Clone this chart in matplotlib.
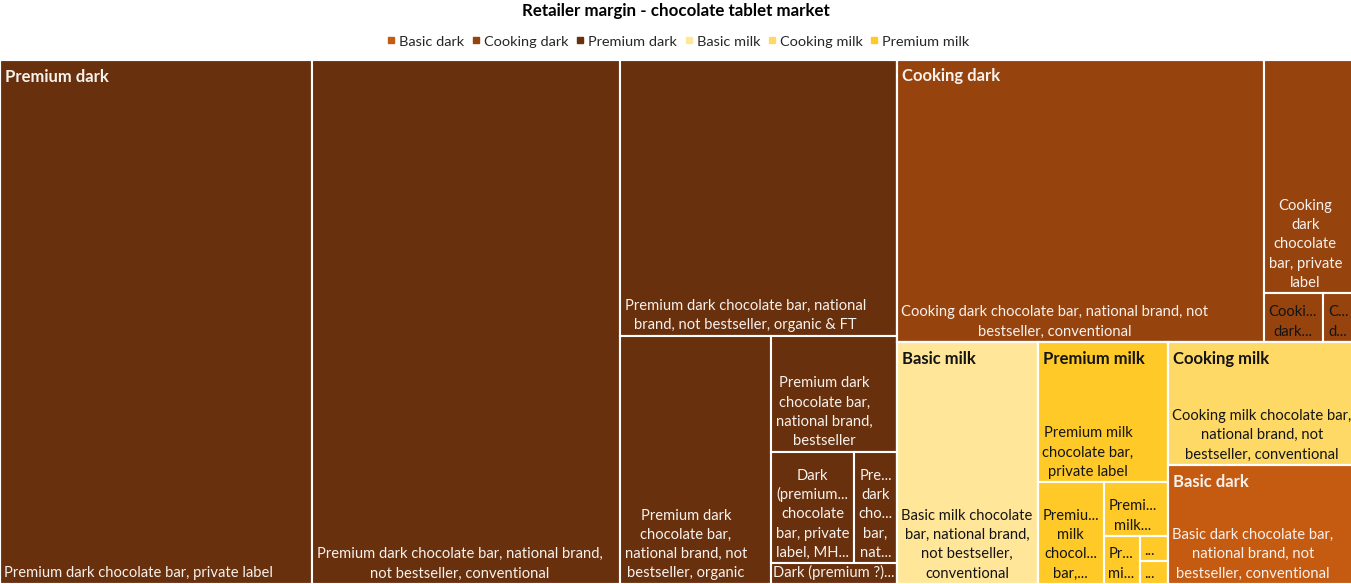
import math
import matplotlib
matplotlib.use("Agg")
import matplotlib.pyplot as plt
from matplotlib.patches import Rectangle
from matplotlib.font_manager import FontProperties
from matplotlib.lines import Line2D

# ---------------- data ----------------
TITLE = "Retailer margin - chocolate tablet market"
LEGEND_ORDER = ["Basic dark", "Cooking dark", "Premium dark", "Basic milk", "Cooking milk", "Premium milk"]
GROUPS = ["Premium dark", "Cooking dark", "Basic milk", "Premium milk", "Cooking milk", "Basic dark"]

premium_dark_items = [
    "Premium dark chocolate bar, private label",
    "Premium dark chocolate bar, national brand, not bestseller, conventional",
    "Premium dark chocolate bar, national brand, not bestseller, organic & FT",
    "Premium dark chocolate bar, national brand, not bestseller, organic",
    "Premium dark chocolate bar, national brand, bestseller",
    "Dark (premium ?) chocolate bar, private label, MHD reduced",
    "Premium dark chocolate bar, national brand, bestseller, organic",
    "Dark (premium ?) chocolate bar, national brand",
]
premium_dark_values = [163.8, 161.7, 76.5, 37.6, 14.6, 9.2, 4.8, 2.6]

cooking_dark_items = [
    "Cooking dark chocolate bar, national brand, not bestseller, conventional",
    "Cooking dark chocolate bar, private label",
    "Cooking dark chocolate bar, national brand, bestseller",
    "Cooking dark chocolate bar, national brand, not bestseller, organic",
]
cooking_dark_values = [103.9, 21.5, 2.9, 1.6]

basic_milk_items = ["Basic milk chocolate bar, national brand, not bestseller, conventional"]
basic_milk_values = [34.1]

premium_milk_items = [
    "Premium milk chocolate bar, private label",
    "Premium milk chocolate bar, national brand, not bestseller, conventional",
    "Premium milk chocolate bar, national brand, bestseller",
    "Premium milk chocolate bar, national brand, not bestseller, organic",
    "Premium milk chocolate bar, national brand, not bestseller, organic & FT",
    "Premium milk chocolate bar, national brand, bestseller, organic",
]
premium_milk_values = [18.2, 6.7, 3.46, 1.73, 0.70, 0.64]

cooking_milk_items = ["Cooking milk chocolate bar, national brand, not bestseller, conventional"]
cooking_milk_values = [23.1]

basic_dark_items = ["Basic dark chocolate bar, national brand, not bestseller, conventional"]
basic_dark_values = [22.4]

GROUP_ITEMS = {
    "Premium dark": (premium_dark_items, premium_dark_values),
    "Cooking dark": (cooking_dark_items, cooking_dark_values),
    "Basic milk": (basic_milk_items, basic_milk_values),
    "Premium milk": (premium_milk_items, premium_milk_values),
    "Cooking milk": (cooking_milk_items, cooking_milk_values),
    "Basic dark": (basic_dark_items, basic_dark_values),
}

# strip grouping used by the treemap layout (items per strip)
STRIPS = {"Premium dark": [1, 1, 1, 1, 1, 2, 1]}

# ---------------- style ----------------
COLORS = {
    "Basic dark": "#C55A11",
    "Cooking dark": "#97430E",
    "Premium dark": "#68300D",
    "Basic milk": "#FFE699",
    "Cooking milk": "#FFD966",
    "Premium milk": "#FFCA28",
}
LIGHT_TEXT_GROUPS = {"Basic dark", "Cooking dark", "Premium dark"}
DARK_TEXT_LEAVES = {
    "Cooking dark chocolate bar, national brand, bestseller",
    "Cooking dark chocolate bar, national brand, not bestseller, organic",
}
LIGHT = "#F7F2EE"
DARK = "#141414"

W_PX, H_PX = 1351, 584
fig = plt.figure(figsize=(W_PX / 100, H_PX / 100), dpi=100)
ax = fig.add_axes([0, 0, 1, 1])
ax.set_xlim(0, W_PX)
ax.set_ylim(H_PX, 0)
ax.axis("off")
renderer = fig.canvas.get_renderer()

FAMILY = ["Lato", "DejaVu Sans"]


def tw(s, prop):
    w, h, d = renderer.get_text_width_height_descent(s, prop, ismath=False)
    return w


def scaled_prop(ref, target, weight="normal"):
    p = FontProperties(family=FAMILY, size=10, weight=weight)
    p.set_size(10 * target / tw(ref, p))
    return p


leaf_prop = scaled_prop("Premium dark chocolate bar, private label", 268)
head_prop = scaled_prop("Premium dark", 104, "bold")
title_prop = scaled_prop(TITLE, 307, "bold")
legend_prop = scaled_prop("Basic dark", 65)

LINE_H = 19.3
ELL = "..."
PAD_L = 4.5
PAD_TOTAL = 8.0


def strip_layout(values, x, y, w, h, strips=None):
    if strips is None:
        strips = [1] * len(values)
    rects = []
    i = 0
    for k in strips:
        chunk = values[i:i + k]
        s = float(sum(chunk))
        rem = float(sum(values[i:]))
        if w >= h:
            t = w * s / rem
            yy = y
            for v in chunk:
                hh = h * v / s
                rects.append((x, yy, t, hh))
                yy += hh
            x += t
            w -= t
        else:
            t = h * s / rem
            xx = x
            for v in chunk:
                ww = w * v / s
                rects.append((xx, y, ww, t))
                xx += ww
            y += t
            h -= t
        i += k
    return rects


def meas(s):
    return tw(s.replace("\u00a0", " "), leaf_prop)


def truncate(s, maxw):
    s = s.rstrip()
    while s and meas(s + ELL) > maxw:
        s = s[:-1].rstrip()
    return s + ELL


def wrap(text, maxw, maxlines):
    tokens = text.replace(" ?", "\u00a0?").split(" ")
    n = len(tokens)
    if maxlines == 1 and meas(tokens[0]) > maxw:
        return [ELL]
    lines = []
    idx = 0
    while idx < n and len(lines) < maxlines:
        cur = tokens[idx]
        if meas(cur) > maxw:
            lines.append(truncate(cur, maxw))
            idx += 1
            continue
        idx += 1
        while idx < n and meas(cur + " " + tokens[idx]) <= maxw:
            cur += " " + tokens[idx]
            idx += 1
        if len(lines) == maxlines - 1 and idx < n:
            if meas(cur + ELL) <= maxw + 6:
                cur = cur + ELL
            else:
                cur = truncate(cur, maxw)
        lines.append(cur)
    return [l.replace("\u00a0", " ") for l in lines]


# ---------------- layout ----------------
# the treemap area runs a few pixels past the right edge of the picture
X0, Y0, W, H = 0, 59.5, 1356, H_PX - 59.5
group_totals = [sum(GROUP_ITEMS[g][1]) for g in GROUPS]
group_rects = strip_layout(group_totals, X0, Y0, W, H)

EDGE_LW = 1.5
for g, (gx, gy, gw, gh) in zip(GROUPS, group_rects):
    items, vals = GROUP_ITEMS[g]
    leaf_rects = strip_layout(vals, gx, gy, gw, gh, STRIPS.get(g))
    for name, (lx, ly, lw, lh) in zip(items, leaf_rects):
        ax.add_patch(Rectangle((lx, ly), lw, lh, facecolor=COLORS[g],
                               edgecolor="white", linewidth=EDGE_LW))
        color = LIGHT if g in LIGHT_TEXT_GROUPS else DARK
        if name in DARK_TEXT_LEAVES:
            color = DARK
        maxw = lw - PAD_TOTAL
        maxlines = max(1, int(math.floor((lh - 8) / LINE_H)))
        lines = wrap(name, maxw, maxlines)
        bw = max(meas(l) for l in lines)
        cx = lx + PAD_L + bw / 2
        if cx + bw / 2 > lx + lw - 1:
            cx = lx + lw / 2
        last_base = ly + lh - 6.5
        nl = len(lines)
        for j, line in enumerate(lines):
            ax.text(cx, last_base - (nl - 1 - j) * LINE_H, line, ha="center",
                    va="baseline", fontproperties=leaf_prop, color=color,
                    clip_on=True)
    ax.add_patch(Rectangle((gx, gy), gw, gh, facecolor="none",
                           edgecolor="white", linewidth=EDGE_LW))
    hcolor = LIGHT if g in LIGHT_TEXT_GROUPS else DARK
    ax.text(gx + 5, gy + 22, g, ha="left", va="baseline",
            fontproperties=head_prop, color=hcolor)

# ---------------- title & legend ----------------
ax.text(W_PX / 2, 11, TITLE, ha="center", va="center",
        fontproperties=title_prop, color="#000000")

handles = [Line2D([], [], marker="s", linestyle="None", markersize=4,
                  markerfacecolor=COLORS[g], markeredgecolor=COLORS[g])
           for g in LEGEND_ORDER]
leg = ax.legend(handles, LEGEND_ORDER, loc="center", ncol=6,
                bbox_to_anchor=(0.5 + 3 / W_PX, 1 - 41.5 / H_PX),
                bbox_transform=ax.transAxes,
                frameon=False, prop=legend_prop, handlelength=0.5,
                handletextpad=0.3, columnspacing=0.56, borderpad=0,
                labelcolor="#262626")

fig.savefig("out.png", dpi=100, facecolor="white")
